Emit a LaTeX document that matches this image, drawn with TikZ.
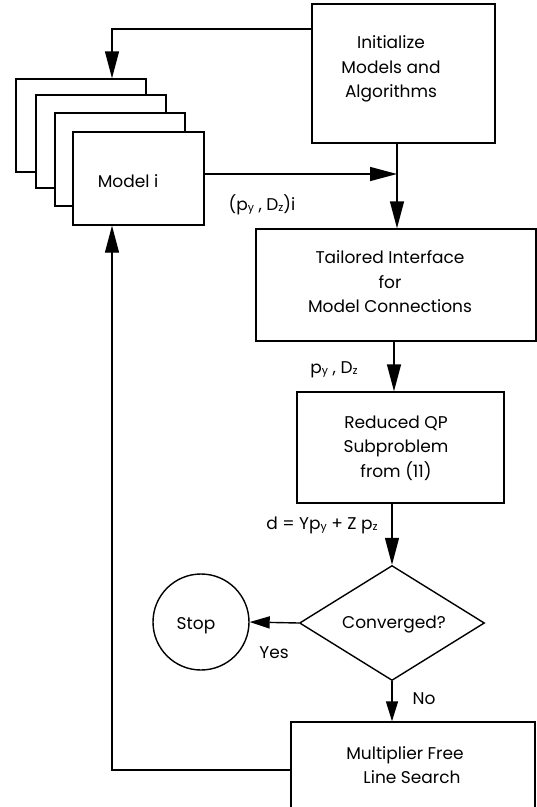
\documentclass[tikz,border=0pt]{standalone}
\usepackage{fontspec}
\setmainfont{Poppins}
\usetikzlibrary{arrows.meta,shapes.geometric}
\newcommand{\subs}[1]{\raisebox{-1pt}{\fontsize{11}{11}\selectfont #1}}
\begin{document}
\begin{tikzpicture}[x=1pt,y=-1pt,
  line width=1.4pt,
  box/.style={draw,fill=white,inner sep=0pt},
  txt/.style={align=center,inner sep=0pt,font=\fontsize{17}{24.5}\selectfont},
  lbl/.style={inner sep=0pt,font=\fontsize{17}{18}\selectfont},
  arr/.style={-{Triangle[length=27pt,width=14pt]}},
  sarr/.style={-{Triangle[length=20pt,width=12pt]}}]
\useasboundingbox (0,0) rectangle (537,807);
% stacked model boxes
\node[box,minimum width=130,minimum height=93] (m1) at (81,125.5) {};
\node[box,minimum width=130,minimum height=93] (m2) at (101,141.5) {};
\node[box,minimum width=130,minimum height=93] (m3) at (120,159.5) {};
\node[box,minimum width=131,minimum height=93] (model) at (138.5,178.5) {};
\node[txt] (modelT) at (128,181) {Model i};
% initialize
\node[box,minimum width=183,minimum height=139] (init) at (403.5,73.5) {};
\node[txt] (initT) at (391,69) {Initialize\\Models and\\Algorithms};
% tailored
\node[box,minimum width=280,minimum height=112] (tail) at (396,285) {};
\node[txt] (tailT) at (390,282) {Tailored Interface\\for\\Model Connections};
% reduced
\node[box,minimum width=207,minimum height=111] (red) at (400.5,447.5) {};
\node[txt] (redT) at (396,448) {Reduced QP\\Subproblem\\from (11)};
% diamond
\node[draw,diamond,aspect=1.6,minimum width=185,minimum height=115,inner sep=0pt] (conv) at (392,623) {};
\node[txt] (convT) at (394,624) {Converged?};
% stop
\node[draw,circle,minimum size=96,inner sep=0pt] (stop) at (201,622) {};
\node[txt] (stopT) at (196,626) {Stop};
% multiplier
\node[box,minimum width=244,minimum height=110] (mult) at (413,777) {};
\node[txt] (multT) at (405,765) {Multiplier Free\\\hspace*{14pt}Line Search};
% coordinates
\coordinate (jx) at (397,174);
\coordinate (topc) at (112,29);
\coordinate (botc) at (112,770);
% connectors
\draw[arr] (init.west |- topc) -- (topc) -- (m1.north -| topc);
\draw[arr] (model.east |- jx) -- (jx);
\draw[arr] (init.south -| jx) -- (tail.north -| jx);
\draw[arr] (tail.south -| 394,0) -- (red.north -| 394,0);
\draw[arr] (red.south -| conv.north) -- (conv.north);
\draw[sarr] (conv.west) -- (stop.east);
\draw[sarr] (conv.south) -- (mult.north -| conv.south);
\draw[arr] (mult.west |- botc) -- (botc) -- (model.south -| botc);
% labels
\node[lbl] (l1) at (262,205) {(p\subs{y} , D\subs{z})i};
\node[lbl] (l2) at (334,370) {p\subs{y} , D\subs{z}};
\node[lbl] (l3) at (322,525) {d = Yp\subs{y} + Z p\subs{z}};
\node[lbl] (l4) at (274,653) {Yes};
\node[lbl] (l5) at (424,699) {No};
\end{tikzpicture}
\end{document}
